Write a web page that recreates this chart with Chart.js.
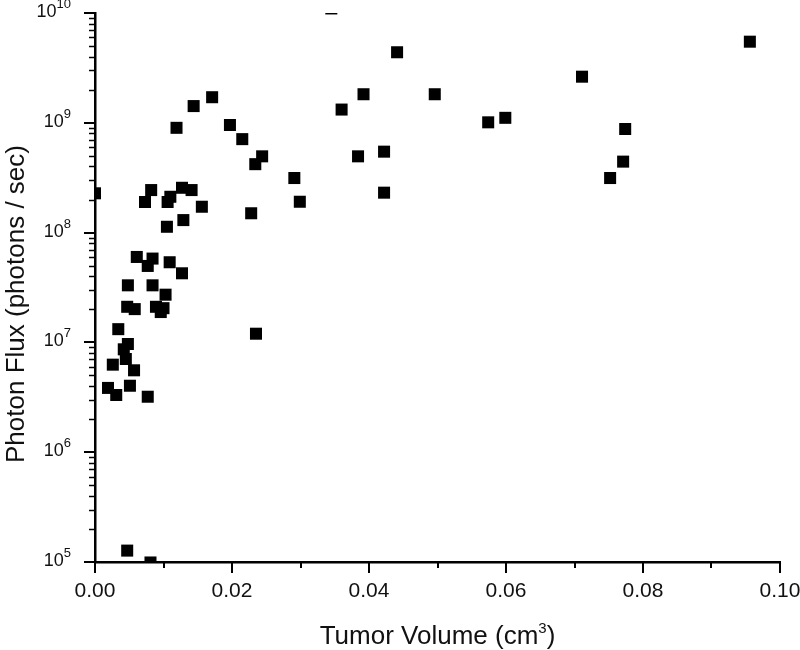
<!DOCTYPE html>
<html>
<head>
<meta charset="utf-8">
<title>Photon flux vs tumor volume</title>
<script src="https://cdn.jsdelivr.net/npm/chart.js@4.4.1/dist/chart.umd.min.js"></script>
<style>
  html, body { margin: 0; padding: 0; background: #fff; }
  #wrap { width: 800px; height: 650px; }
</style>
</head>
<body>
<div id="wrap"><canvas id="fluxChart" width="800" height="650"></canvas></div>
<script>
// Tumor volume (cm3), one entry per animal
const volumes = [
  0.0171, 0.0144, 0.0119, 0.0197, 0.0215, 0.0244, 0.0234, 0.0000, 0.0082, 0.0073,
  0.0110, 0.0106, 0.0127, 0.0141, 0.0156, 0.0228, 0.0129, 0.0105, 0.0061, 0.0084,
  0.0077, 0.0109, 0.0127, 0.0048, 0.0084, 0.0103, 0.0047, 0.0058, 0.0089, 0.0100,
  0.0096, 0.0034, 0.0235, 0.0048, 0.0042, 0.0045, 0.0026, 0.0057, 0.0019, 0.0051,
  0.0031, 0.0077, 0.0047, 0.0081, 0.0441, 0.0392, 0.0496, 0.0360, 0.0384, 0.0422,
  0.0291, 0.0299, 0.0422, 0.0711, 0.0574, 0.0599, 0.0774, 0.0771, 0.0752, 0.0956,
  0.0345
];

// Photon flux (photons / sec), same order as volumes
const fluxes = [
  1.71e9, 1.42e9, 9.0e8, 9.55e8, 7.1e8, 4.95e8, 4.2e8, 2.28e8, 2.44e8, 1.9e8,
  2.12e8, 1.9e8, 2.56e8, 2.44e8, 1.72e8, 1.5e8, 1.3e8, 1.13e8, 6.0e7, 5.8e7,
  4.97e7, 5.37e7, 4.26e7, 3.31e7, 3.31e7, 2.72e7, 2.11e7, 2.01e7, 2.11e7, 2.05e7,
  1.89e7, 1.32e7, 1.2e7, 9.67e6, 8.65e6, 7.06e6, 6.27e6, 5.57e6, 3.85e6, 4.03e6,
  3.32e6, 3.2e6, 1.27e5, 0.99e5, 4.39e9, 1.82e9, 1.82e9, 1.32e9, 4.95e8, 5.46e8,
  3.14e8, 1.91e8, 2.31e8, 2.63e9, 1.01e9, 1.11e9, 8.78e8, 4.43e8, 3.14e8, 5.48e9,
  1.1e10
];

// Tick values
const xLabelTicks = [0, 0.02, 0.04, 0.06, 0.08, 0.10];
const xMinorTicks = [0.01, 0.03, 0.05, 0.07, 0.09];
const yDecades = [5, 6, 7, 8, 9, 10];

const FONT = 'Arial, "Liberation Sans", sans-serif';

// Draws the tick marks, tick labels and axis titles the way the original plot has them
const axisDecor = {
  id: 'axisDecor',
  afterDraw(chart) {
    const { ctx, chartArea } = chart;
    const x = chart.scales.x;
    const y = chart.scales.y;
    ctx.save();
    ctx.strokeStyle = '#000';
    ctx.fillStyle = '#111';

    // x ticks
    ctx.lineWidth = 2;
    xLabelTicks.forEach(v => {
      const px = Math.round(x.getPixelForValue(v));
      ctx.beginPath();
      ctx.moveTo(px, chartArea.bottom);
      ctx.lineTo(px, chartArea.bottom + 11);
      ctx.stroke();
    });
    xMinorTicks.forEach(v => {
      const px = Math.round(x.getPixelForValue(v));
      ctx.beginPath();
      ctx.moveTo(px, chartArea.bottom);
      ctx.lineTo(px, chartArea.bottom + 6);
      ctx.stroke();
    });

    // x labels
    ctx.font = '21px ' + FONT;
    ctx.textAlign = 'center';
    ctx.textBaseline = 'middle';
    xLabelTicks.forEach(v => {
      ctx.fillText(v.toFixed(2), x.getPixelForValue(v), chartArea.bottom + 29);
    });

    // y ticks (major at each decade, minor at 2..9)
    yDecades.forEach(e => {
      const py = Math.round(y.getPixelForValue(Math.pow(10, e)));
      ctx.lineWidth = 2;
      ctx.beginPath();
      ctx.moveTo(chartArea.left - 11, py);
      ctx.lineTo(chartArea.left, py);
      ctx.stroke();
      if (e === yDecades[yDecades.length - 1]) return;
      ctx.lineWidth = 1.5;
      for (let m = 2; m <= 9; m++) {
        const pm = Math.round(y.getPixelForValue(m * Math.pow(10, e))) + 0.5;
        ctx.beginPath();
        ctx.moveTo(chartArea.left - 6, pm);
        ctx.lineTo(chartArea.left, pm);
        ctx.stroke();
      }
    });

    // y labels: 10 with a raised exponent
    const labelRight = 71;
    yDecades.forEach(e => {
      const py = y.getPixelForValue(Math.pow(10, e));
      ctx.font = '13px ' + FONT;
      const ew = ctx.measureText(String(e)).width;
      ctx.textAlign = 'left';
      ctx.textBaseline = 'alphabetic';
      ctx.fillText(String(e), labelRight - ew, py - 5);
      ctx.font = '18px ' + FONT;
      ctx.textAlign = 'right';
      ctx.textBaseline = 'middle';
      ctx.fillText('10', labelRight - ew, py - 1);
    });

    // y title
    ctx.save();
    ctx.translate(24, 304);
    ctx.rotate(-Math.PI / 2);
    ctx.font = '26px ' + FONT;
    ctx.textAlign = 'center';
    ctx.textBaseline = 'alphabetic';
    ctx.fillText('Photon Flux (photons / sec)', 0, 0);
    ctx.restore();

    // x title with superscript 3
    const main = 'Tumor Volume (cm';
    ctx.font = '26px ' + FONT;
    const w1 = ctx.measureText(main).width;
    const w3 = ctx.measureText(')').width;
    ctx.font = '15px ' + FONT;
    const w2 = ctx.measureText('3').width;
    const cx = (chartArea.left + chartArea.right) / 2;
    let tx = cx - (w1 + w2 + w3) / 2;
    const baseY = 644;
    ctx.textAlign = 'left';
    ctx.textBaseline = 'alphabetic';
    ctx.font = '26px ' + FONT;
    ctx.fillText(main, tx, baseY);
    tx += w1;
    ctx.font = '15px ' + FONT;
    ctx.fillText('3', tx, baseY - 11);
    tx += w2;
    ctx.font = '26px ' + FONT;
    ctx.fillText(')', tx, baseY);

    ctx.restore();
  }
};

const points = volumes.map((v, i) => ({ x: v, y: fluxes[i] }));

new Chart(document.getElementById('fluxChart'), {
  type: 'scatter',
  data: {
    datasets: [{
      label: 'Photon flux',
      data: points,
      pointStyle: 'rect',
      pointRadius: 8.5,
      pointBorderWidth: 0,
      backgroundColor: '#000',
      borderColor: '#000',
      clip: 0,
    }],
  },
  options: {
    responsive: false,
    animation: false,
    devicePixelRatio: 1,
    layout: { padding: { top: 13, right: 20, left: 0, bottom: 0 } },
    plugins: {
      legend: { display: false },
      tooltip: { enabled: false },
    },
    scales: {
      x: {
        type: 'linear',
        min: 0,
        max: 0.1,
        grid: { display: false },
        ticks: { display: false },
        border: { display: true, color: '#000', width: 2.5 },
        afterFit: s => { s.height = 88; },
      },
      y: {
        type: 'logarithmic',
        min: 1e5,
        max: 1e10,
        grid: { display: false },
        ticks: { display: false },
        border: { display: true, color: '#000', width: 2.5 },
        afterFit: s => { s.width = 95; },
      },
    },
  },
  plugins: [axisDecor],
});
</script>
</body>
</html>
